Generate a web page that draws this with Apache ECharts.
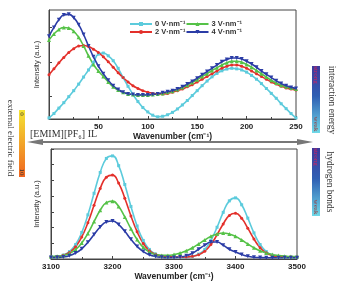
<!DOCTYPE html>
<html>
<head>
<meta charset="utf-8">
<script src="https://cdn.jsdelivr.net/npm/echarts@6/dist/echarts.min.js"></script>
<style>
  html, body { margin: 0; padding: 0; background: #fff; }
  #chart { width: 340px; height: 285px; }
</style>
</head>
<body>
<div id="chart"></div>
<script>
// low-frequency region (0 - 250 cm-1), intensity in % of the box height
const topWave = [0, 5, 10, 15, 20, 25, 30, 35, 40, 45, 50, 55, 60, 65, 70, 75, 80, 85, 90, 95,
  100, 105, 110, 115, 120, 125, 130, 135, 140, 145, 150, 155, 160, 165, 170, 175, 180, 185, 190, 195,
  200, 205, 210, 215, 220, 225, 230, 235, 240, 245, 250];
const top0 = [1, 5, 10, 15, 20.5, 26, 32, 38.5, 45, 52, 59.5, 60.5, 58, 53.5, 46.5, 38, 30, 22.5, 16, 10.5,
  6.5, 3.5, 2, 2.5, 3.9, 6.1, 9.2, 12.9, 17, 21.5, 26, 30.6, 34.8, 38.7, 41.8, 44.2, 45.8, 46.5, 46, 45,
  43, 40, 36.5, 32.5, 28, 23.5, 19, 14, 9.5, 5, 1];
const top2 = [40.5, 46, 51.5, 56.5, 61, 64.5, 67, 67.5, 66.5, 64, 61, 57, 52.5, 47.5, 42.5, 38, 34, 30.5, 28, 26,
  24.5, 23.5, 23, 23, 23.5, 24.5, 26, 27.5, 29.5, 31.5, 34, 36.5, 39, 41.5, 44, 46.5, 48.5, 49.5, 49.5, 48.5,
  46.5, 44, 41.5, 39, 36.5, 34, 32, 30, 28.5, 27.5, 26.5];
const top3 = [72.5, 78, 82, 84, 83.5, 80.5, 75, 67, 58, 50, 44, 39, 34, 29.5, 26.5, 24.5, 23, 22.5, 22, 22,
  22, 22.5, 23, 23.5, 24.5, 25.5, 27, 29, 31, 33.5, 36, 39, 41.5, 44.5, 47, 49.5, 51.5, 53, 53, 52,
  50, 47.5, 44.5, 41.5, 38.5, 35.5, 33, 31, 29.5, 28.5, 27.5];
const top4 = [76, 84, 91, 95.5, 96, 93, 86.5, 77.5, 67, 57, 48.5, 41.5, 35.5, 30.5, 27, 24.5, 23, 22.5, 22, 22,
  22, 22.5, 23, 24, 25, 26, 27.5, 29.5, 32, 34.5, 37.5, 40.5, 43.5, 46.5, 49.5, 52.5, 54.5, 56, 56, 55,
  53, 50.5, 47.5, 44, 41, 38, 35, 32.5, 30.5, 29, 28];
const topTicks = [21, 52.5, 84];

// O-H / C-H stretching region (3100 - 3500 cm-1)
const botWave = [3100, 3110, 3120, 3130, 3140, 3150, 3160, 3170, 3180, 3190, 3200, 3210, 3220, 3230, 3240,
  3250, 3260, 3270, 3280, 3290, 3300, 3310, 3320, 3330, 3340, 3350, 3360, 3370, 3380, 3390, 3400,
  3410, 3420, 3430, 3440, 3450, 3460, 3470, 3480, 3490, 3500];
const bot0 = [0.12, 0.15, 0.25, 0.47, 0.92, 1.69, 2.81, 4.18, 5.51, 6.40, 6.56, 5.94, 4.74, 3.34, 2.10,
  1.18, 0.61, 0.32, 0.18, 0.13, 0.11, 0.10, 0.12, 0.17, 0.31, 0.61, 1.19, 2.02, 2.97, 3.70, 3.89,
  3.45, 2.60, 1.66, 0.92, 0.47, 0.24, 0.14, 0.11, 0.10, 0.10];
const bot2 = [0.13, 0.16, 0.24, 0.42, 0.78, 1.40, 2.31, 3.42, 4.49, 5.21, 5.34, 4.83, 3.87, 2.74, 1.74,
  0.99, 0.53, 0.30, 0.19, 0.14, 0.13, 0.12, 0.13, 0.17, 0.27, 0.50, 0.92, 1.54, 2.23, 2.77, 2.91,
  2.59, 1.96, 1.27, 0.72, 0.39, 0.22, 0.15, 0.13, 0.12, 0.12];
const bot3 = [0.16, 0.18, 0.23, 0.35, 0.60, 1.02, 1.63, 2.38, 3.10, 3.59, 3.68, 3.34, 2.68, 1.92, 1.24,
  0.74, 0.44, 0.28, 0.23, 0.23, 0.28, 0.38, 0.52, 0.72, 0.96, 1.21, 1.44, 1.59, 1.65, 1.59, 1.44,
  1.21, 0.96, 0.72, 0.52, 0.38, 0.28, 0.22, 0.18, 0.16, 0.16];
const bot4 = [0.09, 0.10, 0.13, 0.21, 0.38, 0.65, 1.06, 1.56, 2.04, 2.36, 2.42, 2.19, 1.76, 1.25, 0.80,
  0.47, 0.27, 0.16, 0.11, 0.09, 0.10, 0.13, 0.21, 0.37, 0.62, 0.88, 1.08, 1.08, 0.88, 0.62, 0.45,
  0.28, 0.17, 0.11, 0.09, 0.08, 0.08, 0.08, 0.08, 0.08, 0.08];

const names = ['0 V·nm⁻¹', '2 V·nm⁻¹', '3 V·nm⁻¹', '4 V·nm⁻¹'];
const colors = ['#5ccbdc', '#e3302b', '#55c247', '#2b3ca6'];
const symbols = ['rect', 'circle', 'triangle', 'triangle'];

const sans = 'Liberation Sans, Arial, sans-serif';
const serif = 'Liberation Serif, Times New Roman, serif';

function pairs(xs, ys) {
  return xs.map((x, i) => [x, ys[i]]);
}

function makeSeries(xs, list, grid) {
  return list.map((ys, i) => ({
    name: names[i],
    type: 'line',
    xAxisIndex: grid,
    yAxisIndex: grid,
    smooth: true,
    symbol: symbols[i],
    symbolSize: i >= 2 ? 4 : 3,
    symbolRotate: i === 3 ? 180 : 0,
    lineStyle: { width: 1.6, color: colors[i] },
    itemStyle: { color: colors[i] },
    data: pairs(xs, ys)
  }));
}

function xAxisFor(grid, min, max, interval, showMin) {
  return {
    type: 'value',
    gridIndex: grid,
    min: min,
    max: max,
    interval: interval,
    name: 'Wavenumber (cm⁻¹)',
    nameLocation: 'middle',
    nameGap: 13,
    nameTextStyle: { fontFamily: sans, fontSize: 8.5, fontWeight: 'bold', color: '#222' },
    axisLine: { lineStyle: { color: '#444', width: 1 } },
    axisTick: { inside: true, length: 3, lineStyle: { color: '#444' } },
    minorTick: { show: true, splitNumber: 2, length: 2, lineStyle: { color: '#444' } },
    axisLabel: {
      showMinLabel: showMin, margin: 4, fontFamily: sans, fontSize: 8, fontWeight: 'bold', color: '#222',
      formatter: v => String(v)
    },
    splitLine: { show: false }
  };
}

const chart = echarts.init(document.getElementById('chart'));

const option = {
  animation: false,
  backgroundColor: '#fff',
  grid: [
    { left: 49, top: 10, width: 247, height: 109, show: true, borderColor: '#444', borderWidth: 1 },
    { left: 51, top: 149, width: 246, height: 110, show: true, borderColor: '#444', borderWidth: 1 }
  ],
  legend: {
    data: [names[0], names[2], names[1], names[3]],
    left: 129,
    top: 20,
    width: 135,
    padding: 0,
    itemGap: 0,
    itemWidth: 22,
    itemHeight: 5,
    textStyle: { fontFamily: sans, fontSize: 7.5, fontWeight: 'bold', color: '#333', padding: [0, 0, 0, -2] }
  },
  xAxis: [
    xAxisFor(0, 0, 250, 50, false),
    xAxisFor(1, 3100, 3500, 100, true)
  ],
  yAxis: [
    {
      type: 'value', gridIndex: 0, min: 0, max: 100,
      name: 'Intensity (a.u.)', nameLocation: 'middle', nameGap: 8,
      nameTextStyle: { fontFamily: sans, fontSize: 7.5, color: '#333' },
      axisLine: { show: true, lineStyle: { color: '#444' } },
      axisTick: { show: true, inside: true, length: 3, customValues: topTicks, lineStyle: { color: '#444' } },
      axisLabel: { show: false },
      splitLine: { show: false }
    },
    {
      type: 'value', gridIndex: 1, min: 0, max: 7, interval: 1,
      name: 'Intensity (a.u.)', nameLocation: 'middle', nameGap: 10,
      nameTextStyle: { fontFamily: sans, fontSize: 7.5, color: '#333' },
      axisLine: { show: true, lineStyle: { color: '#444' } },
      axisTick: { show: true, inside: true, length: 3, lineStyle: { color: '#444' } },
      axisLabel: { show: false },
      splitLine: { show: false }
    }
  ],
  series: makeSeries(topWave, [top0, top2, top3, top4], 0)
    .concat(makeSeries(botWave, [bot0, bot2, bot3, bot4], 1)),
  graphic: [
    // double arrow between the two panels
    { type: 'line', shape: { x1: 36, y1: 142, x2: 304, y2: 142 }, style: { stroke: '#777', lineWidth: 1.8 } },
    { type: 'polygon', shape: { points: [[27, 142], [43, 139], [43, 145]] }, style: { fill: '#777' } },
    { type: 'polygon', shape: { points: [[313, 142], [297, 139], [297, 145]] }, style: { fill: '#777' } },
    { type: 'text', left: 30, top: 129, style: { text: '[EMIM][PF₆] IL', font: '10px ' + serif, fill: '#333' } },

    // external electric field bar
    {
      type: 'rect', shape: { x: 19, y: 110, width: 6, height: 67 },
      style: { fill: new echarts.graphic.LinearGradient(0, 0, 0, 1, [
        { offset: 0, color: '#f4e433' }, { offset: 1, color: '#f06520' }]) }
    },
    { type: 'text', x: 22, y: 114, rotation: -Math.PI / 2, style: { text: '0', font: '7px ' + serif, fill: '#333', align: 'center', verticalAlign: 'middle' } },
    { type: 'text', x: 22, y: 172, rotation: -Math.PI / 2, style: { text: '10', font: '7px ' + serif, fill: '#333', align: 'center', verticalAlign: 'middle' } },
    { type: 'text', x: 10, y: 138, rotation: -Math.PI / 2, style: { text: 'external electric field', font: '9px ' + serif, fill: '#333', align: 'center', verticalAlign: 'middle' } },

    // interaction energy bar
    {
      type: 'rect', shape: { x: 312, y: 66, width: 8, height: 67 },
      style: { fill: new echarts.graphic.LinearGradient(0, 0, 0, 1, [
        { offset: 0, color: '#3d3a9c' }, { offset: 0.45, color: '#2f5fb3' }, { offset: 1, color: '#6fd9e8' }]) }
    },
    { type: 'text', x: 316, y: 75, rotation: -Math.PI / 2, style: { text: 'strong', font: '7px ' + serif, fill: '#e0205a', align: 'center', verticalAlign: 'middle' } },
    { type: 'text', x: 316, y: 124, rotation: -Math.PI / 2, style: { text: 'weak', font: '7px ' + serif, fill: '#9a3a3a', align: 'center', verticalAlign: 'middle' } },
    { type: 'text', x: 331, y: 100, rotation: -Math.PI / 2, style: { text: 'interaction energy', font: '9.5px ' + serif, fill: '#333', align: 'center', verticalAlign: 'middle' } },

    // hydrogen bonds bar
    {
      type: 'rect', shape: { x: 312, y: 148, width: 8, height: 68 },
      style: { fill: new echarts.graphic.LinearGradient(0, 0, 0, 1, [
        { offset: 0, color: '#3d3a9c' }, { offset: 0.45, color: '#2f5fb3' }, { offset: 1, color: '#6fd9e8' }]) }
    },
    { type: 'text', x: 316, y: 157, rotation: -Math.PI / 2, style: { text: 'strong', font: '7px ' + serif, fill: '#e0205a', align: 'center', verticalAlign: 'middle' } },
    { type: 'text', x: 316, y: 207, rotation: -Math.PI / 2, style: { text: 'weak', font: '7px ' + serif, fill: '#9a3a3a', align: 'center', verticalAlign: 'middle' } },
    { type: 'text', x: 329, y: 182, rotation: -Math.PI / 2, style: { text: 'hydrogen bonds', font: '9.5px ' + serif, fill: '#333', align: 'center', verticalAlign: 'middle' } }
  ]
};

chart.setOption(option);
</script>
</body>
</html>
